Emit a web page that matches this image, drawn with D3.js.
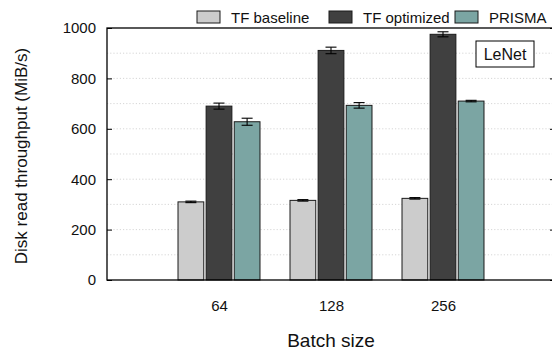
<!DOCTYPE html>
<html>
<head>
<meta charset="utf-8">
<script src="https://cdn.jsdelivr.net/npm/d3@7"></script>
<style>
  html, body { margin: 0; padding: 0; background: #fff; }
  svg { display: block; font-family: "Liberation Sans", Arial, sans-serif; }
</style>
</head>
<body>
<div id="chart"></div>
<script>
// ---- data ----
var batchSizes = ['64', '128', '256'];
var seriesNames = ['TF baseline', 'TF optimized', 'PRISMA'];
var baselineVals = [310, 316, 324];
var optimizedVals = [690, 911, 975];
var prismaVals = [628, 693, 710];
var baselineErr = [3, 3, 3];
var optimizedErr = [12, 13, 10];
var prismaErr = [14, 11, 3];
var yTicks = [0, 200, 400, 600, 800, 1000];
var yGrid = [100, 200, 300, 400, 500, 600, 700, 800, 900];

var seriesColors = ['#cccccc', '#404040', '#7ba5a3'];

var W = 552, H = 351;
var margin = { top: 28, right: -3, bottom: 71, left: 107 };
var iw = W - margin.left - margin.right;
var ih = H - margin.top - margin.bottom;

var svg = d3.select('#chart').append('svg').attr('width', W).attr('height', H);
var g = svg.append('g').attr('transform', 'translate(' + margin.left + ',' + margin.top + ')');

// category slots: one empty slot on each side of the three groups
var x = d3.scaleLinear().domain([-1, batchSizes.length]).range([0, iw]);
var y = d3.scaleLinear().domain([0, 1000]).range([ih, 0]);
var slot = x(1) - x(0);
var step = slot * 0.251;
var barW = slot * 0.23;

// dotted grid
g.append('g').selectAll('line').data(yGrid).enter().append('line')
  .attr('x1', 0).attr('x2', iw)
  .attr('y1', function(d) { return y(d); }).attr('y2', function(d) { return y(d); })
  .attr('stroke', '#c4c4c4').attr('stroke-width', 0.7).attr('stroke-dasharray', '1.2,2');

var table = [
  { vals: baselineVals, errs: baselineErr },
  { vals: optimizedVals, errs: optimizedErr },
  { vals: prismaVals, errs: prismaErr }
];

table.forEach(function(s, si) {
  var off = (si - 1) * step;
  var grp = g.append('g');
  grp.selectAll('rect').data(s.vals).enter().append('rect')
    .attr('x', function(d, i) { return x(i) + off - barW / 2; })
    .attr('y', function(d) { return y(d); })
    .attr('width', barW)
    .attr('height', function(d) { return y(0) - y(d); })
    .attr('fill', seriesColors[si])
    .attr('stroke', '#1a1a1a').attr('stroke-width', 1);

  // error bars
  var cap = 5.5;
  s.vals.forEach(function(v, i) {
    var cx = x(i) + off, e = s.errs[i];
    var eg = grp.append('g').attr('stroke', '#000').attr('stroke-width', 1.1);
    eg.append('line').attr('x1', cx).attr('x2', cx).attr('y1', y(v + e)).attr('y2', y(v - e));
    eg.append('line').attr('x1', cx - cap).attr('x2', cx + cap).attr('y1', y(v + e)).attr('y2', y(v + e));
    eg.append('line').attr('x1', cx - cap).attr('x2', cx + cap).attr('y1', y(v - e)).attr('y2', y(v - e));
  });
});

// frame
g.append('rect').attr('x', 0).attr('y', 0).attr('width', iw).attr('height', ih)
  .attr('fill', 'none').attr('stroke', '#000').attr('stroke-width', 1.3);

// y axis (ticks drawn inward on both sides)
var yAxis = g.append('g')
  .call(d3.axisLeft(y).tickValues(yTicks).tickSize(-5).tickPadding(11).tickFormat(d3.format('d')));
yAxis.select('.domain').remove();
yAxis.selectAll('line').attr('stroke', '#000');
yAxis.selectAll('text').attr('font-size', '15px').attr('fill', '#111');

var yAxisR = g.append('g').attr('transform', 'translate(' + iw + ',0)')
  .call(d3.axisRight(y).tickValues(yTicks).tickSize(-5).tickFormat(''));
yAxisR.select('.domain').remove();
yAxisR.selectAll('line').attr('stroke', '#000');

// x axis labels
var xAxis = g.append('g').attr('transform', 'translate(0,' + ih + ')')
  .call(d3.axisBottom(x).tickValues(d3.range(batchSizes.length)).tickSize(0).tickPadding(20)
    .tickFormat(function(i) { return batchSizes[i]; }));
xAxis.select('.domain').remove();
xAxis.selectAll('text').attr('font-size', '15px').attr('fill', '#111');

// axis titles
svg.append('text').attr('x', margin.left + x(1)).attr('y', 347)
  .attr('text-anchor', 'middle').attr('font-size', '19px').attr('fill', '#111').text('Batch size');
svg.append('text').attr('transform', 'translate(27,' + (margin.top + ih / 2 + 2) + ') rotate(-90)')
  .attr('text-anchor', 'middle').attr('font-size', '17px').attr('fill', '#111')
  .text('Disk read throughput (MiB/s)');

// LeNet box
var lb = svg.append('g').attr('transform', 'translate(476,41)');
lb.append('rect').attr('width', 58).attr('height', 26).attr('fill', '#fff')
  .attr('stroke', '#000').attr('stroke-width', 1);
lb.append('text').attr('x', 29).attr('y', 19).attr('text-anchor', 'middle')
  .attr('font-size', '16px').attr('fill', '#111').text('LeNet');

// legend
var legendX = [197, 329, 455];
var legend = svg.append('g').attr('transform', 'translate(0,11)');
seriesNames.forEach(function(name, i) {
  var lg = legend.append('g').attr('transform', 'translate(' + legendX[i] + ',0)');
  lg.append('rect').attr('width', 23).attr('height', 12).attr('fill', seriesColors[i])
    .attr('stroke', '#1a1a1a').attr('stroke-width', 1);
  lg.append('text').attr('x', 34).attr('y', 12).attr('font-size', '15px').attr('fill', '#111').text(name);
});
</script>
</body>
</html>
